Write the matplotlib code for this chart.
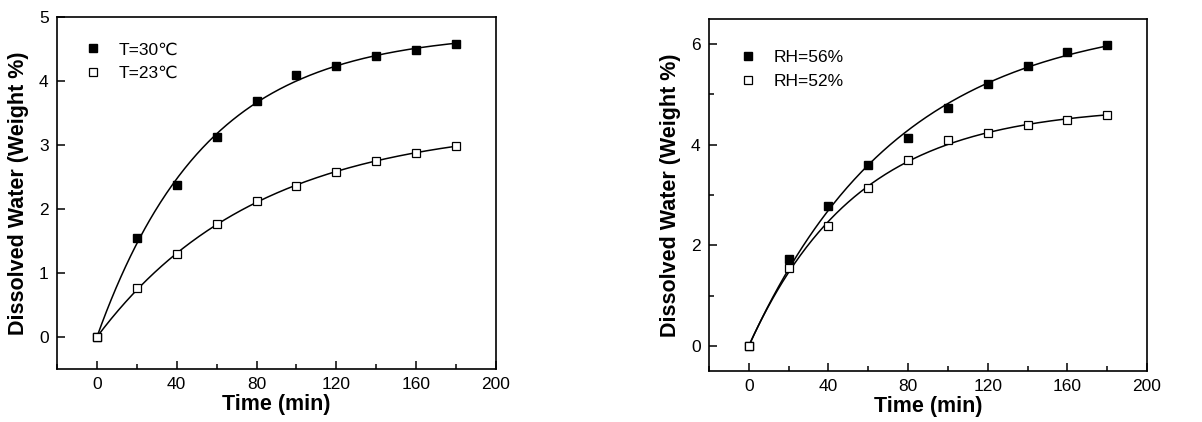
import numpy as np
import matplotlib
matplotlib.use("Agg")
import matplotlib.pyplot as plt
from matplotlib.ticker import MultipleLocator

plt.rcParams['font.family'] = ['Liberation Sans', 'DejaVu Sans']

time_min = [0, 20, 40, 60, 80, 100, 120, 140, 160, 180]

# temperature series (left)
t30 = [0, 1.54, 2.38, 3.13, 3.69, 4.09, 4.23, 4.39, 4.49, 4.58]
t23 = [0, 0.76, 1.29, 1.76, 2.12, 2.36, 2.58, 2.75, 2.88, 2.99]

# humidity series (right)
rh56 = [0, 1.72, 2.78, 3.60, 4.13, 4.73, 5.20, 5.57, 5.85, 5.99]
rh52 = [0, 1.55, 2.38, 3.13, 3.70, 4.10, 4.23, 4.39, 4.49, 4.59]


def fit_curve(t, y):
    # y = A * (1 - exp(-k t)), grid search on k, least squares on A
    t = np.asarray(t, float)
    y = np.asarray(y, float)
    best = None
    for k in np.logspace(-4, -0.5, 4000):
        f = 1 - np.exp(-k * t)
        a = np.sum(y * f) / np.sum(f * f)
        err = np.sum((y - a * f) ** 2)
        if best is None or err < best[0]:
            best = (err, a, k)
    tt = np.linspace(t.min(), t.max(), 300)
    return tt, best[1] * (1 - np.exp(-best[2] * tt))


def style_axes(ax):
    ax.set_xlim(-20, 200)
    ax.xaxis.set_major_locator(MultipleLocator(40))
    ax.xaxis.set_minor_locator(MultipleLocator(20))
    ax.tick_params(which='both', direction='in', top=False, right=False,
                   labelsize=12.5, width=1.1, pad=6)
    ax.tick_params(which='major', length=6)
    ax.tick_params(which='minor', length=3.5)
    for s in ax.spines.values():
        s.set_linewidth(1.2)
    ax.set_xlabel('Time (min)', fontsize=15.5, fontweight='bold', labelpad=1)
    ax.set_ylabel('Dissolved Water (Weight %)', fontsize=15.5, fontweight='bold', labelpad=7)


fig = plt.figure(figsize=(12.02, 4.22), dpi=100)
W, H = 1202, 422
ax1 = fig.add_axes([57 / W, (H - 369) / H, (496 - 57) / W, (369 - 17) / H])
ax2 = fig.add_axes([709 / W, (H - 371) / H, (1147 - 709) / W, (371 - 19) / H])

ms = 6
panels = [(ax1, t30, t23, 'T=30℃', 'T=23℃', (0.022, 0.973)),
          (ax2, rh56, rh52, 'RH=56%', 'RH=52%', (0.029, 0.956))]
for ax, hi, lo, lab_hi, lab_lo, anchor in panels:
    x1, y1 = fit_curve(time_min, hi)
    x2, y2 = fit_curve(time_min, lo)
    ax.plot(x1, y1, color='black', lw=1.1, zorder=2)
    ax.plot(x2, y2, color='black', lw=1.1, zorder=2)
    ax.plot(time_min, hi, 's', color='black', ms=ms, label=lab_hi, zorder=3)
    ax.plot(time_min, lo, 's', mfc='white', mec='black', mew=0.9, ms=ms,
            label=lab_lo, zorder=4)
    ax.legend(loc='upper left', frameon=False, fontsize=12.5,
              bbox_to_anchor=anchor, handlelength=1.2, handletextpad=0.9,
              labelspacing=0.5)
    style_axes(ax)

ax1.set_ylim(-0.5, 5)
ax1.yaxis.set_major_locator(MultipleLocator(1))

ax2.set_ylim(-0.5, 6.5)
ax2.yaxis.set_major_locator(MultipleLocator(2))
ax2.yaxis.set_minor_locator(MultipleLocator(1))

fig.savefig('out.png', dpi=100)
